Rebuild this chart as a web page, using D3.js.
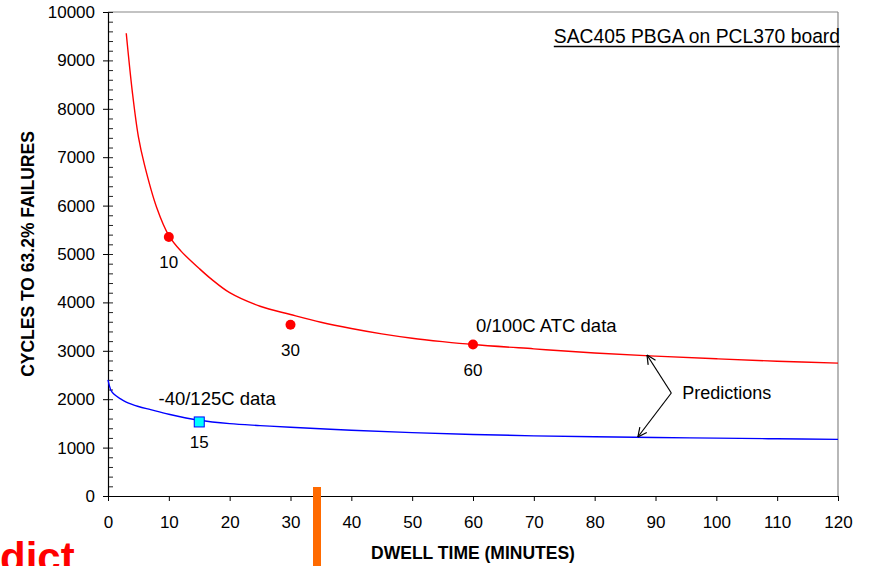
<!DOCTYPE html>
<html>
<head>
<meta charset="utf-8">
<script src="https://cdn.jsdelivr.net/npm/d3@7"></script>
<style>
html, body { margin: 0; padding: 0; background: #fff; }
svg { display: block; font-family: "Liberation Sans", Arial, sans-serif; }
</style>
</head>
<body>
<svg id="chart" width="869" height="566"></svg>
<script>
// tick labels
const dwellTicks = [0, 10, 20, 30, 40, 50, 60, 70, 80, 90, 100, 110, 120];
const cycleTicks = [0, 1000, 2000, 3000, 4000, 5000, 6000, 7000, 8000, 9000, 10000];

// 0/100C prediction curve (dwell minutes, cycles)
const atcDwell  = [3, 4, 5, 6, 8, 10, 12, 15, 17, 20, 25, 30, 35, 40, 45, 50, 55, 60, 70, 80, 90, 100, 110, 120];
const atcCycles = [9560, 8350, 7420, 6840, 5960, 5380, 5060, 4700, 4480, 4200, 3920, 3750, 3590, 3460, 3350, 3260, 3190, 3130, 3040, 2955, 2890, 2835, 2785, 2745];

// -40/125C prediction curve
const tcDwell  = [0, 0.5, 1, 2, 3, 5, 7, 10, 15, 20, 25, 30, 40, 50, 60, 70, 80, 90, 100, 110, 120];
const tcCycles = [2400, 2180, 2100, 2010, 1940, 1850, 1785, 1690, 1565, 1495, 1455, 1420, 1360, 1310, 1272, 1243, 1225, 1210, 1195, 1182, 1170];

// measured points
const atcPtDwell  = [10, 30, 60];
const atcPtCycles = [5350, 3540, 3130];
const tcPtDwell  = [15];
const tcPtCycles = [1530];

const svg = d3.select('#chart');
const plotL = 108, plotR = 838, plotT = 12, plotB = 496;

const x = d3.scaleLinear().domain([0, 120]).range([plotL, plotR]);
const y = d3.scaleLinear().domain([0, 10000]).range([plotB, plotT]);

// frame (top / right in grey)
svg.append('line').attr('x1', plotL).attr('x2', plotR).attr('y1', plotT).attr('y2', plotT)
    .attr('stroke', '#888').attr('stroke-width', 1.2);
svg.append('line').attr('x1', plotR).attr('x2', plotR).attr('y1', plotT).attr('y2', plotB)
    .attr('stroke', '#888').attr('stroke-width', 1.2);

// y axis: minor ticks inside, major crossing
svg.append('g').attr('transform', `translate(${plotL},0)`)
    .call(d3.axisLeft(y).tickValues(d3.range(0, 10001, 200)).tickSize(-5).tickSizeOuter(0).tickFormat(''))
    .call(g => g.select('.domain').remove())
    .call(g => g.selectAll('line').attr('stroke', '#222'));
const yAxis = svg.append('g').attr('transform', `translate(${plotL},0)`)
    .call(d3.axisLeft(y).tickValues(cycleTicks).tickSize(5).tickSizeOuter(0).tickPadding(8).tickFormat(d3.format('d')));
yAxis.selectAll('text').attr('font-size', 17).attr('font-family', null).attr('fill', '#000');
yAxis.select('.domain').attr('stroke', '#000').attr('stroke-width', 1.2);

const xAxis = svg.append('g').attr('transform', `translate(0,${plotB})`)
    .call(d3.axisBottom(x).tickValues(dwellTicks).tickSize(5).tickSizeOuter(0).tickPadding(15));
xAxis.selectAll('text').attr('font-size', 17).attr('font-family', null).attr('fill', '#000');
xAxis.select('.domain').attr('stroke', '#000').attr('stroke-width', 1.2);

// axis titles
svg.append('text').attr('x', (plotL + plotR) / 2).attr('y', 559)
    .attr('text-anchor', 'middle').attr('font-size', 17.5).attr('font-weight', 'bold')
    .text('DWELL TIME (MINUTES)');
svg.append('text').attr('transform', `translate(34,${(plotT + plotB) / 2}) rotate(-90)`)
    .attr('text-anchor', 'middle').attr('font-size', 17.5).attr('font-weight', 'bold')
    .text('CYCLES TO 63.2% FAILURES');

// curves
const line = d3.line().x(d => x(d[0])).y(d => y(d[1])).curve(d3.curveCatmullRom.alpha(0.5));
svg.append('path').datum(d3.zip(atcDwell, atcCycles))
    .attr('d', line).attr('fill', 'none').attr('stroke', '#ff0000').attr('stroke-width', 1.4);
svg.append('path').datum(d3.zip(tcDwell, tcCycles))
    .attr('d', line).attr('fill', 'none').attr('stroke', '#0000ff').attr('stroke-width', 1.4);

// measured points
const atcPts = d3.zip(atcPtDwell, atcPtCycles);
svg.selectAll('circle.atc').data(atcPts).enter().append('circle')
    .attr('class', 'atc').attr('cx', d => x(d[0])).attr('cy', d => y(d[1])).attr('r', 5)
    .attr('fill', '#ff0000');
svg.selectAll('text.atc').data(atcPts).enter().append('text')
    .attr('class', 'atc').attr('x', d => x(d[0])).attr('y', d => y(d[1]) + 31)
    .attr('text-anchor', 'middle').attr('font-size', 17).text(d => d[0]);

const tcPts = d3.zip(tcPtDwell, tcPtCycles);
svg.selectAll('rect.tc').data(tcPts).enter().append('rect')
    .attr('class', 'tc').attr('x', d => x(d[0]) - 5).attr('y', d => y(d[1]) - 5)
    .attr('width', 10).attr('height', 10)
    .attr('fill', '#00ffff').attr('stroke', '#0000ff').attr('stroke-width', 1);
svg.selectAll('text.tc').data(tcPts).enter().append('text')
    .attr('class', 'tc').attr('x', d => x(d[0])).attr('y', d => y(d[1]) + 26)
    .attr('text-anchor', 'middle').attr('font-size', 17).text(d => d[0]);

// annotations
svg.append('text').attr('x', x(60.5)).attr('y', y(3390)).attr('font-size', 18.5).text('0/100C ATC data');
svg.append('text').attr('x', x(8.3)).attr('y', y(1880)).attr('font-size', 18.5).text('-40/125C data');
svg.append('text').attr('x', x(94.4)).attr('y', y(2004)).attr('font-size', 18).text('Predictions');

const vertex = [92.6, 2128];
const arrowEnds = [[88.6, 2913], [87.1, 1219]];
arrowEnds.forEach(e => {
    const x0 = x(vertex[0]), y0 = y(vertex[1]), x1 = x(e[0]), y1 = y(e[1]);
    svg.append('line').attr('x1', x0).attr('y1', y0).attr('x2', x1).attr('y2', y1)
        .attr('stroke', '#000').attr('stroke-width', 1.2);
    const a = Math.atan2(y0 - y1, x0 - x1);
    [-0.45, 0.45].forEach(da => {
        svg.append('line').attr('x1', x1).attr('y1', y1)
            .attr('x2', x1 + 10 * Math.cos(a + da)).attr('y2', y1 + 10 * Math.sin(a + da))
            .attr('stroke', '#000').attr('stroke-width', 1.2);
    });
});

// title, underlined
const title = svg.append('text').attr('x', 840).attr('y', 43).attr('text-anchor', 'end')
    .attr('font-size', 19.3).text('SAC405 PBGA on PCL370 board');
const tb = title.node().getBBox();
svg.append('line').attr('x1', tb.x).attr('x2', tb.x + tb.width).attr('y1', 46.5).attr('y2', 46.5)
    .attr('stroke', '#000').attr('stroke-width', 1.6);

// orange marker bar and slide text fragment
svg.append('rect').attr('x', 313).attr('y', 487).attr('width', 8).attr('height', 80).attr('fill', '#ff6a00');
svg.append('text').attr('x', 0).attr('y', 572)
    .attr('font-size', 42).attr('font-weight', 'bold').attr('fill', '#ff0000').text('dict');
</script>
</body>
</html>
